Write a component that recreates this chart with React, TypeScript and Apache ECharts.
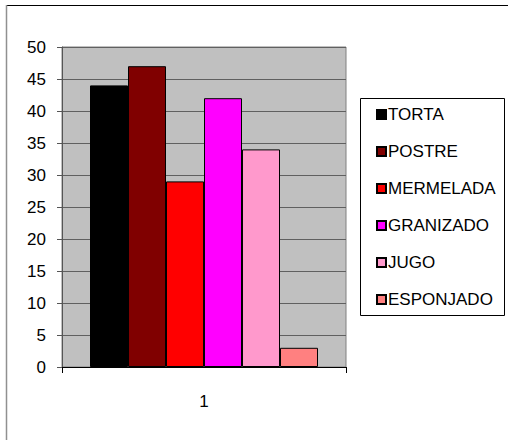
import React, { useEffect, useRef } from "react";
import * as echarts from "echarts";

const categories = ["1"];
const seriesNames = ["TORTA", "POSTRE", "MERMELADA", "GRANIZADO", "JUGO", "ESPONJADO"];
const seriesValues = [44, 47, 29, 42, 34, 3];
const seriesColors = ["#000000", "#800000", "#FF0000", "#FF00FF", "#FF99CC", "#FF8080"];
const yMin = 0;
const yMax = 50;
const yInterval = 5;

export default function App() {
  const ref = useRef<HTMLDivElement>(null);
  useEffect(() => {
    if (!ref.current) return;
    const chart = echarts.init(ref.current, undefined, { renderer: "svg" });
    const font = "'Liberation Sans', Arial, sans-serif";
    chart.setOption({
      animation: false,
      backgroundColor: "#ffffff",
      grid: {
        left: 62,
        top: 47,
        width: 284,
        height: 320,
        show: true,
        backgroundColor: "#C0C0C0",
        borderColor: "#808080",
        borderWidth: 1,
      },
      xAxis: {
        type: "category",
        data: categories,
        axisLine: { lineStyle: { color: "#000000", width: 1 } },
        axisTick: { show: true, length: 6, lineStyle: { color: "#000000" } },
        axisLabel: { color: "#000000", fontSize: 17, fontFamily: font, margin: 26 },
      },
      yAxis: {
        type: "value",
        min: yMin,
        max: yMax,
        interval: yInterval,
        axisLine: { show: true, lineStyle: { color: "#555555", width: 1 } },
        axisTick: { show: true, length: 5, lineStyle: { color: "#555555" } },
        axisLabel: { color: "#000000", fontSize: 17, fontFamily: font, margin: 16 },
        splitLine: { show: true, lineStyle: { color: "#606060", width: 1 } },
      },
      legend: {
        orient: "vertical",
        left: 376,
        top: 106,
        padding: 0,
        itemWidth: 9,
        itemHeight: 9,
        itemGap: 20,
        icon: "rect",
        data: seriesNames,
        textStyle: { color: "#000000", fontSize: 17, fontFamily: font, padding: [0, 0, 0, -3] },
      },
      graphic: [
        {
          type: "rect",
          shape: { x: 360.5, y: 98.5, width: 144, height: 217 },
          style: { fill: "none", stroke: "#000000", lineWidth: 1 },
          z: -1,
        },
        {
          type: "line",
          shape: { x1: 6, y1: 5.5, x2: 508, y2: 5.5 },
          style: { stroke: "#000000", lineWidth: 1 },
        },
        {
          type: "line",
          shape: { x1: 6.5, y1: 5, x2: 6.5, y2: 440 },
          style: { stroke: "#909090", lineWidth: 1.5 },
        },
      ],
      series: seriesNames.map((name, i) => ({
        name,
        type: "bar",
        data: [seriesValues[i]],
        barWidth: 38,
        barGap: "0%",
        itemStyle: { color: seriesColors[i], borderColor: "#000000", borderWidth: 1 },
      })),
    });
    return () => chart.dispose();
  }, []);
  return <div ref={ref} style={{ width: 508, height: 440, position: "absolute", left: 0, top: 0 }} />;
}
